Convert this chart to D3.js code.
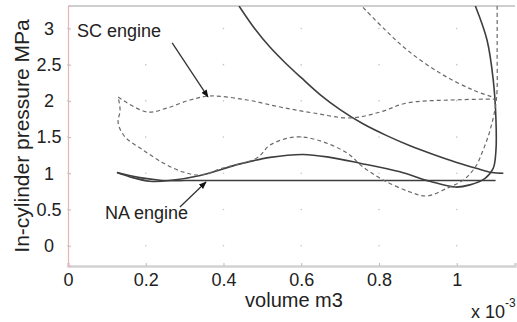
<!DOCTYPE html>
<html>
<head>
<meta charset="utf-8">
<script src="https://cdn.jsdelivr.net/npm/d3@7"></script>
<style>
  body { margin: 0; background: #fff; }
  text { font-family: Arial, "Liberation Sans", sans-serif; fill: #222; }
</style>
</head>
<body>
<div id="chart"></div>
<script>
// volume in 1e-3 m3, pressure in MPa
const xTicks = [0, 0.2, 0.4, 0.6, 0.8, 1];
const yTicks = [0, 0.5, 1, 1.5, 2, 2.5, 3];

// NA engine (solid)
const naCompV = [0.44, 0.48, 0.52, 0.56, 0.60, 0.65, 0.70, 0.76, 0.82, 0.88, 0.94, 1.00, 1.05, 1.09, 1.12];
const naCompP = [3.31, 3.00, 2.74, 2.52, 2.32, 2.08, 1.88, 1.68, 1.52, 1.38, 1.26, 1.15, 1.07, 1.01, 1.00];
const naExhV = [1.048, 1.078, 1.094, 1.101, 1.101, 1.094, 1.073, 1.034, 0.996, 0.931, 0.854, 0.751, 0.674, 0.605, 0.520, 0.443, 0.340, 0.262, 0.211, 0.160, 0.126];
const naExhP = [3.31, 2.84, 2.29, 1.74, 1.32, 1.07, 0.93, 0.84, 0.81, 0.89, 1.02, 1.14, 1.22, 1.26, 1.22, 1.13, 0.97, 0.90, 0.89, 0.95, 1.01];
const naIntV = [0.126, 0.185, 0.237, 0.34, 0.60, 0.85, 1.10];
const naIntP = [1.01, 0.94, 0.905, 0.90, 0.90, 0.90, 0.90];

// SC engine (dashed)
const scCompV = [0.759, 0.816, 0.873, 0.958, 1.042, 1.094];
const scCompP = [3.29, 2.98, 2.70, 2.38, 2.15, 2.05];
const scIntV = [0.129, 0.203, 0.255, 0.314, 0.365, 0.461, 0.546, 0.631, 0.726, 0.803, 0.872, 0.983, 1.104];
const scIntP = [2.054, 1.846, 1.902, 2.012, 2.067, 2.012, 1.915, 1.833, 1.764, 1.846, 1.971, 2.012, 2.026];
const scExhV = [1.104, 1.104, 1.102, 1.086, 1.068, 1.048, 1.017, 0.976, 0.924, 0.880, 0.811, 0.759, 0.718, 0.641, 0.584, 0.520, 0.486, 0.399, 0.340, 0.296, 0.245, 0.193, 0.147, 0.129, 0.134, 0.129];
const scExhP = [3.31, 2.70, 2.012, 1.598, 1.322, 1.087, 0.907, 0.797, 0.687, 0.742, 0.907, 1.087, 1.280, 1.460, 1.501, 1.391, 1.211, 1.073, 0.977, 1.018, 1.142, 1.322, 1.501, 1.695, 1.874, 2.054];

// annotations
const labels = ["SC engine", "NA engine"];
const labelPos = [[0.023, 2.88], [0.095, 0.37]];
const arrowFrom = [[0.268, 2.80], [0.288, 0.535]];
const arrowTo = [[0.360, 2.054], [0.355, 0.88]];

const W = 517, H = 322;
const margin = { top: 6, right: 2, bottom: 56, left: 68 };

const svg = d3.select("#chart").append("svg")
  .attr("width", W).attr("height", H);

const x = d3.scaleLinear().domain([0, 1.15]).range([margin.left, W - margin.right]);
const y = d3.scaleLinear().domain([-0.28, 3.31]).range([H - margin.bottom, margin.top]);

// top frame line
svg.append("line")
  .attr("x1", x(0)).attr("x2", x(1.15))
  .attr("y1", y(3.31)).attr("y2", y(3.31))
  .attr("stroke", "#cfcfcf").attr("stroke-width", 2);

// dotted grid points
xTicks.forEach((tx) => {
  yTicks.forEach((ty) => {
    svg.append("circle")
      .attr("cx", x(tx)).attr("cy", y(ty)).attr("r", 0.8)
      .attr("fill", "#c4c4c4");
  });
});

// x axis
const gx = svg.append("g")
  .attr("transform", `translate(0,${y(-0.28)})`)
  .call(d3.axisBottom(x).tickValues(xTicks).tickSize(-3).tickFormat(d3.format("~g")));
gx.select(".domain").attr("stroke", "#d2d2d2").attr("stroke-width", 2.5);
gx.selectAll(".tick line").attr("stroke", "#bbb");
gx.selectAll(".tick text")
  .attr("font-size", 18).attr("y", 7).attr("fill", "#1a1a1a");

// y axis
const gy = svg.append("g")
  .attr("transform", `translate(${x(0)},0)`)
  .call(d3.axisLeft(y).tickValues(yTicks).tickSize(-3).tickFormat(d3.format("~g")));
gy.select(".domain").attr("stroke", "#e8b4b4").attr("stroke-width", 1.2);
gy.selectAll(".tick line").attr("stroke", "#bbb");
gy.selectAll(".tick text")
  .attr("font-size", 18).attr("x", -19).attr("text-anchor", "middle").attr("fill", "#1a1a1a");

// axis labels
svg.append("text")
  .attr("x", 294).attr("y", 307)
  .attr("text-anchor", "middle")
  .attr("font-size", 20)
  .text("volume m3");

svg.append("text")
  .attr("transform", `translate(29,${(y(3.31) + y(-0.28)) / 2}) rotate(-90)`)
  .attr("text-anchor", "middle")
  .attr("font-size", 21)
  .text("In-cylinder pressure MPa");

const exp = svg.append("text").attr("x", 471).attr("y", 318).attr("font-size", 18);
exp.append("tspan").text("x 10");
exp.append("tspan").attr("dy", -11).attr("font-size", 12).text("-3");

// curves
svg.append("clipPath").attr("id", "clip")
  .append("rect")
  .attr("x", x(0)).attr("y", y(3.31))
  .attr("width", x(1.15) - x(0)).attr("height", y(-0.28) - y(3.31));

const plot = svg.append("g").attr("clip-path", "url(#clip)");

const line = d3.line()
  .x((d) => x(d[0]))
  .y((d) => y(d[1]))
  .curve(d3.curveCatmullRom.alpha(0.5));

const zip = (a, b) => a.map((v, i) => [v, b[i]]);

const solid = [zip(naCompV, naCompP), zip(naExhV, naExhP), zip(naIntV, naIntP)];
const dashed = [zip(scCompV, scCompP), zip(scIntV, scIntP), zip(scExhV, scExhP)];

solid.forEach((d) => {
  plot.append("path").datum(d)
    .attr("fill", "none").attr("stroke", "#3e3e3e").attr("stroke-width", 1.6)
    .attr("d", line);
});

dashed.forEach((d) => {
  plot.append("path").datum(d)
    .attr("fill", "none").attr("stroke", "#6a6a6a").attr("stroke-width", 1.2)
    .attr("stroke-dasharray", "4,3")
    .attr("d", line);
});

// annotations
svg.append("defs").append("marker")
  .attr("id", "arrow").attr("viewBox", "0 0 10 10")
  .attr("refX", 9).attr("refY", 5)
  .attr("markerWidth", 6).attr("markerHeight", 6)
  .attr("orient", "auto")
  .append("path").attr("d", "M0,1L10,5L0,9z").attr("fill", "#111");

labels.forEach((t, i) => {
  svg.append("text")
    .attr("x", x(labelPos[i][0])).attr("y", y(labelPos[i][1]))
    .attr("font-size", 18)
    .attr("fill", "#333")
    .text(t);
  svg.append("line")
    .attr("x1", x(arrowFrom[i][0])).attr("y1", y(arrowFrom[i][1]))
    .attr("x2", x(arrowTo[i][0])).attr("y2", y(arrowTo[i][1]))
    .attr("stroke", "#333").attr("stroke-width", 1.3)
    .attr("marker-end", "url(#arrow)");
});
</script>
</body>
</html>
